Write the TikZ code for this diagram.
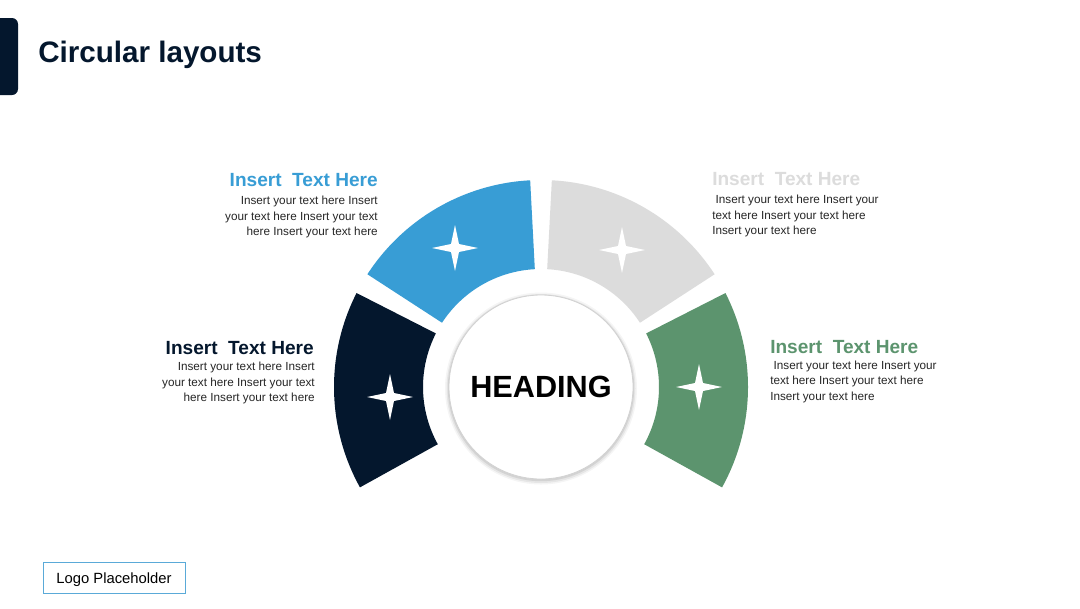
\documentclass[tikz,border=0pt]{standalone}
\usepackage{fontspec}
\setmainfont{Liberation Sans}

\definecolor{cnavy}{HTML}{04172D}
\definecolor{cblue}{HTML}{389DD5}
\definecolor{cgray}{HTML}{DCDCDC}
\definecolor{cgreen}{HTML}{5C946E}
\definecolor{ctext}{HTML}{262626}
\definecolor{clogo}{HTML}{5AAAD8}

\newcommand\Rin{118}
\newcommand\Rout{207}

%% one ring piece: colour, start angle, end angle
\newcommand\Petal[3]{\fill[#1, shift={(ctr)}] (#2:\Rout) arc (#2:#3:\Rout) -- (#3:\Rin) arc (#3:#2:\Rin) -- cycle;}
%% white four point star at a named coordinate
\newcommand\Spark[1]{\fill[white, shift={(#1)}] (23,0) -- (4,4) -- (0,23) -- (-4,4) -- (-23,0) -- (-4,-4) -- (0,-23) -- (4,-4) -- cycle;}

\begin{document}
\begin{tikzpicture}[x=0.75pt, y=0.75pt,
  headtxt/.style={font=\bfseries\fontsize{14.3}{17}\selectfont, inner sep=0pt},
  bodytxt/.style={font=\fontsize{8.8}{11.7}\selectfont, text=ctext, inner sep=0pt}]

  \fill[white] (0,0) rectangle (1080,-608);
  \useasboundingbox (0,0) rectangle (1080,-608);

  \fill[cnavy, rounded corners=4.5pt] (-10,-18) rectangle (18,-95); %% title bar
  \node[anchor=base west, font=\bfseries\fontsize{22.2}{26}\selectfont, text=cnavy, inner sep=0pt] (title) at (38,-62) {Circular layouts};

  \coordinate (ctr) at (541,-387);

  \Petal{cnavy}{153}{209} %% left
  \Petal{cblue}{93}{147} %% upper left
  \Petal{cgray}{33}{87} %% upper right
  \Petal{cgreen}{-29}{27} %% right

  \coordinate (starN) at (390,-397);
  \coordinate (starB) at (455,-248);
  \coordinate (starG) at (622,-250);
  \coordinate (starE) at (699,-387);
  \Spark{starN}
  \Spark{starB}
  \Spark{starG}
  \Spark{starE}

  %% soft shadow round the hub
  \fill[black, opacity=0.04] (541,-388.5) circle (96);
  \fill[black, opacity=0.06] (541,-388.5) circle (94.5);
  \fill[black, opacity=0.08] (541,-388) circle (93.2);
  \node[circle, fill=white, draw=gray!35, line width=0.6pt, minimum size=138pt, inner sep=0pt,
        font=\bfseries\fontsize{23}{27}\selectfont, text=black] (hub) at (ctr) {HEADING};

  \node[headtxt, text=cblue, anchor=base east] (blueHead) at (378,-186) {Insert~ Text Here};
  \node[bodytxt, align=right, anchor=north east] (blueBody) at (378,-196)
    {Insert your text here Insert\\your text here Insert your text\\here Insert your text here};

  \node[headtxt, text=cgray, anchor=base west] (grayHead) at (712,-185) {Insert~ Text Here};
  \node[bodytxt, align=left, anchor=north west] (grayBody) at (712,-195)
    {\hspace*{2.5pt}Insert your text here Insert your\\text here Insert your text here\\Insert your text here};

  \node[headtxt, text=cnavy, anchor=base east] (navyHead) at (314,-354) {Insert~ Text Here};
  \node[bodytxt, align=right, anchor=north east] (navyBody) at (315,-362)
    {Insert your text here Insert\\your text here Insert your text\\here Insert your text here};

  \node[headtxt, text=cgreen, anchor=base west] (greenHead) at (770,-353) {Insert~ Text Here};
  \node[bodytxt, align=left, anchor=north west] (greenBody) at (770,-360.5)
    {\hspace*{2.5pt}Insert your text here Insert your\\text here Insert your text here\\Insert your text here};

  \node[draw=clogo, line width=0.75pt, minimum width=106.5pt, minimum height=23.25pt, inner sep=0pt,
        text depth=0pt, font=\fontsize{11.1}{13}\selectfont] (logo) at (114,-578) {Logo Placeholder};

\end{tikzpicture}
\end{document}
